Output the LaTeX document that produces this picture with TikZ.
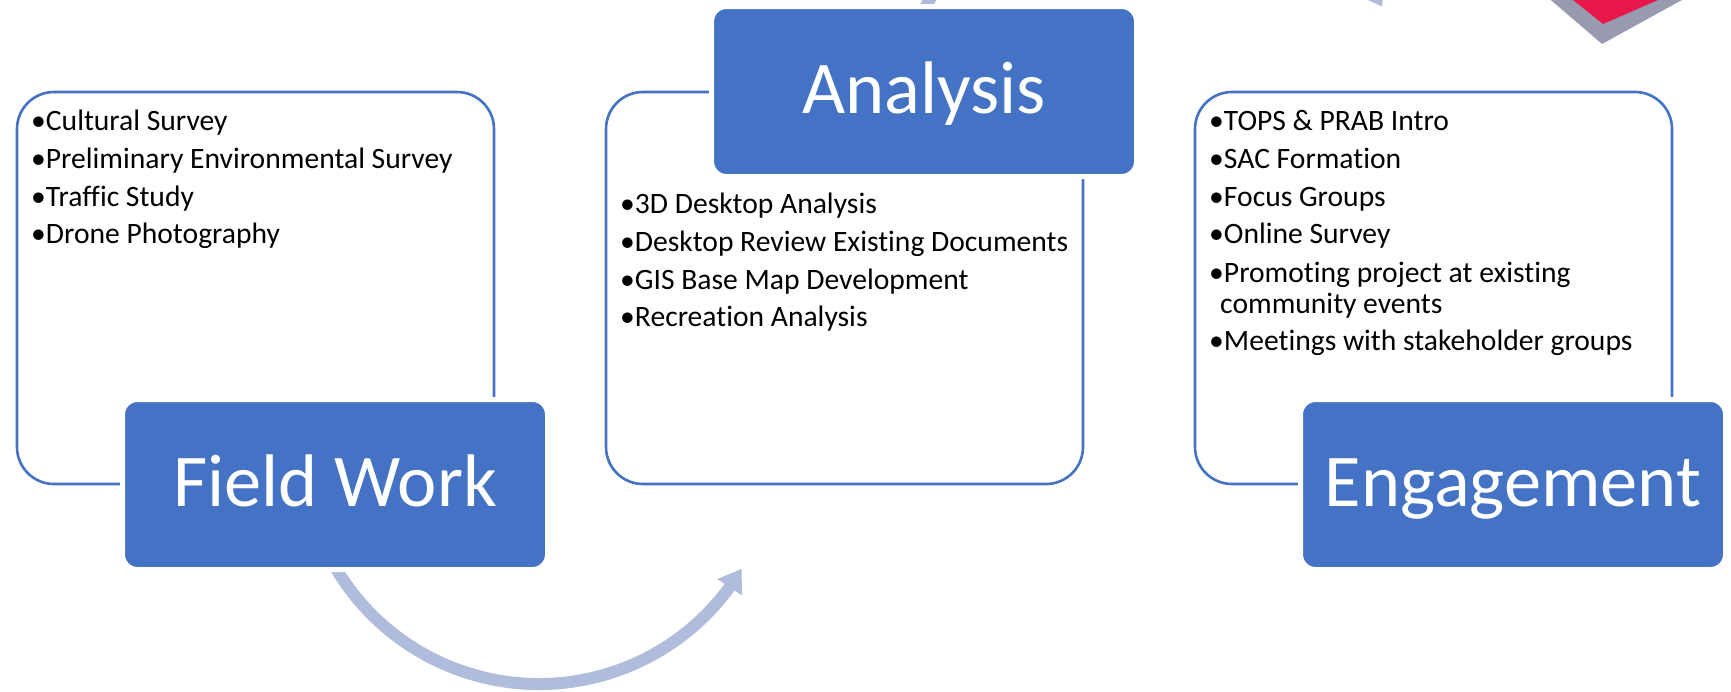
\documentclass[tikz,border=0pt]{standalone}
\usepackage{fontspec}
\setmainfont{Carlito}[Ligatures=NoCommon]
\usetikzlibrary{arrows.meta,bending}
\definecolor{accent}{HTML}{4472C4}
\definecolor{arrowc}{HTML}{AFBCDC}
\definecolor{logored}{HTML}{E8174A}
\definecolor{logogray}{HTML}{989BB0}
\begin{document}
\begin{tikzpicture}[x=1pt,y=1pt,
  panel/.style={draw=accent, line width=2.6pt, rounded corners=37pt, minimum width=477pt, minimum height=392pt, inner sep=0pt, outer sep=0pt, anchor=north west, fill=white},
  titlebox/.style={fill=accent, draw=white, line width=5pt, rounded corners=15pt, minimum width=425pt, minimum height=170pt, anchor=north west, inner sep=0pt, outer sep=0pt, text=white, font=\fontsize{74.5}{89}\selectfont, text height=43pt, text depth=0pt},
  item/.style={anchor=base west, inner sep=0pt, font=\fontsize{29.6}{33}\selectfont, text=black},
  cyclearrow/.style={draw=arrowc, line width=12pt, -{Triangle[width=28pt,length=22pt]}}]
\useasboundingbox (0,0) rectangle (1731,-691);
\clip (0,0) rectangle (1731,-691);
% logo fragment top right
\fill[logogray] (1545,5) -- (1602,-44) -- (1691,5) -- cycle;
\fill[logored] (1566.75,5) -- (1603,-24) -- (1669.5,5) -- cycle;
% cycle arrows
\coordinate (c1) at (539,-448);
\coordinate (c2) at (1154,-135);
\draw[cyclearrow] (c1) ++(205:236pt) arc[start angle=205, end angle=329.2, radius=236pt];
\draw[cyclearrow] (c2) ++(155:262pt) arc[start angle=155, end angle=29.3, radius=262pt];
% panels
\node[panel] (p1) at (17,-92) {};
\node[panel] (p2) at (606,-92) {};
\node[panel] (p3) at (1195,-92) {};
% title boxes
\node[titlebox] (fw) at (122.5,-399.5) {Field Work};
\node[titlebox] (an) at (711.5,-6.5) {Analysis};
\node[titlebox] (en) at (1300.5,-399.5) {Engagement};
% field work items
\node[item] (f1) at (31,-130) {•Cultural Survey};
\node[item] (f2) at (31,-168) {•Preliminary Environmental Survey};
\node[item] (f3) at (31,-206) {•Traffic Study};
\node[item] (f4) at (31,-243) {•Drone Photography};
% analysis items
\node[item] (a1) at (620,-213) {•3D Desktop Analysis};
\node[item] (a2) at (620,-251) {•Desktop Review Existing Documents};
\node[item] (a3) at (620,-289) {•GIS Base Map Development};
\node[item] (a4) at (620,-326) {•Recreation Analysis};
% engagement items
\node[item] (e1) at (1209,-130) {•TOPS \& PRAB Intro};
\node[item] (e2) at (1209,-168) {•SAC Formation};
\node[item] (e3) at (1209,-206) {•Focus Groups};
\node[item] (e4) at (1209,-243) {•Online Survey};
\node[item] (e5) at (1209,-282) {•Promoting project at existing};
\node[item] (e5b) at (1220,-313) {community events};
\node[item] (e6) at (1209,-350) {•Meetings with stakeholder groups};
\end{tikzpicture}
\end{document}
